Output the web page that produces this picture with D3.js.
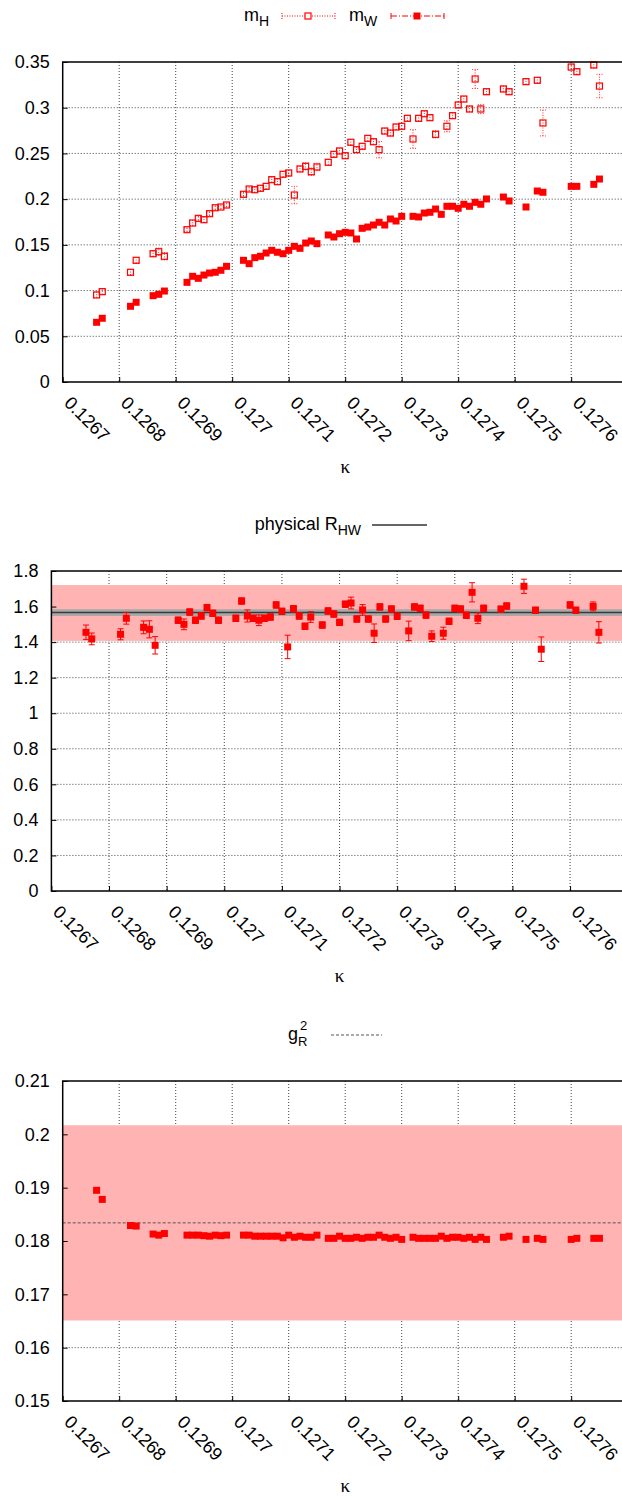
<!DOCTYPE html>
<html>
<head>
<meta charset="utf-8">
<script src="https://cdn.jsdelivr.net/npm/d3@7"></script>
<style>
  body { margin: 0; background: #fff; }
  text { font-family: "Liberation Sans", Arial, sans-serif; }
</style>
</head>
<body>
<svg id="chart" width="622" height="1496"></svg>
<script>
// kappa ticks shared by all three panels
var xTicks = [0.1267, 0.1268, 0.1269, 0.1270, 0.1271, 0.1272, 0.1273, 0.1274, 0.1275, 0.1276];
var xLabels = ["0.1267", "0.1268", "0.1269", "0.127", "0.1271", "0.1272", "0.1273", "0.1274", "0.1275", "0.1276"];

// panel 1: m_W (filled) and m_H (open, with errors)
var kappaW = [0.12676, 0.12677, 0.12682, 0.12683, 0.12686, 0.12687, 0.12688,
    0.12692, 0.12693, 0.12694, 0.12695, 0.12696, 0.12697, 0.12698, 0.12699,
    0.12702, 0.12703, 0.12704, 0.12705, 0.12706, 0.12707, 0.12708, 0.12709, 0.12710, 0.12711, 0.12712, 0.12713, 0.12714, 0.12715,
    0.12717, 0.12718, 0.12719, 0.12720, 0.12721, 0.12722, 0.12723, 0.12724, 0.12725, 0.12726, 0.12727, 0.12728, 0.12729, 0.12730,
    0.12732, 0.12733, 0.12734, 0.12735, 0.12736, 0.12737, 0.12738, 0.12739, 0.12740, 0.12741, 0.12742, 0.12743, 0.12744, 0.12745,
    0.12748, 0.12749, 0.12752, 0.12754, 0.12755, 0.12760, 0.12761, 0.12764, 0.12765];
var mW = [0.0653, 0.0697, 0.0828, 0.0872, 0.0944, 0.0959, 0.0995,
    0.109, 0.1156, 0.1134, 0.117, 0.1192, 0.12, 0.1222, 0.1265,
    0.1331, 0.1294, 0.136, 0.1375, 0.1411, 0.144, 0.1419, 0.1403, 0.144, 0.1484, 0.1462, 0.152, 0.1542, 0.1513,
    0.1608, 0.1586, 0.1622, 0.1637, 0.163, 0.1564, 0.1681, 0.1695, 0.1717, 0.1747, 0.1717, 0.1783, 0.1761, 0.1812,
    0.1812, 0.1805, 0.1848, 0.1856, 0.1892, 0.1834, 0.1922, 0.1922, 0.19, 0.1944, 0.1922, 0.1965, 0.1944, 0.2002,
    0.2023, 0.198, 0.1914, 0.2089, 0.2075, 0.214, 0.214, 0.2162, 0.222];

var kappaH = [0.12676, 0.12677, 0.12682, 0.12683, 0.12686, 0.12687, 0.12688,
    0.12692, 0.12693, 0.12694, 0.12695, 0.12696, 0.12697, 0.12698, 0.12699,
    0.12702, 0.12703, 0.12704, 0.12705, 0.12706, 0.12707, 0.12708, 0.12709, 0.12710, 0.12711, 0.12712, 0.12713, 0.12714, 0.12715,
    0.12717, 0.12718, 0.12719, 0.12720, 0.12721, 0.12722, 0.12723, 0.12724, 0.12725, 0.12726, 0.12727, 0.12728, 0.12729, 0.12730,
    0.12731, 0.12732, 0.12733, 0.12734, 0.12735, 0.12736, 0.12738, 0.12739, 0.12740, 0.12741, 0.12742, 0.12743, 0.12744, 0.12745,
    0.12748, 0.12749, 0.12752, 0.12754, 0.12755, 0.12760, 0.12761, 0.12764, 0.12765];
var mH = [0.0952, 0.0988, 0.12, 0.1331, 0.1403, 0.1425, 0.1375,
    0.1666, 0.1739, 0.179, 0.1775, 0.1841, 0.1906, 0.1914, 0.1936,
    0.2053, 0.2111, 0.2103, 0.2119, 0.214, 0.2213, 0.2191, 0.2272, 0.2286, 0.2045, 0.233, 0.2359, 0.23, 0.2352,
    0.2403, 0.249, 0.2527, 0.2475, 0.2622, 0.2541, 0.2578, 0.2665, 0.2628, 0.2541, 0.2745, 0.2723, 0.2789, 0.2797,
    0.2884, 0.2658, 0.2884, 0.2934, 0.2891, 0.2709, 0.2797, 0.2913, 0.303, 0.3095, 0.2986, 0.3314, 0.2986, 0.3175,
    0.3205, 0.3175, 0.3285, 0.33, 0.2833, 0.3445, 0.3394, 0.3467, 0.3237];
var mHerr = [0.003, 0.003, 0.003, 0.003, 0.003, 0.004, 0.004,
    0.002, 0.003, 0.002, 0.003, 0.002, 0.002, 0.002, 0.002,
    0.002, 0.002, 0.003, 0.003, 0.003, 0.003, 0.003, 0.003, 0.003, 0.0095, 0.003, 0.004, 0.004, 0.004,
    0.003, 0.003, 0.003, 0.003, 0.003, 0.003, 0.003, 0.003, 0.003, 0.009, 0.003, 0.003, 0.003, 0.003,
    0.003, 0.0102, 0.003, 0.003, 0.003, 0.004, 0.006, 0.003, 0.003, 0.003, 0.003, 0.0104, 0.005, 0.003,
    0.003, 0.003, 0.003, 0.003, 0.0142, 0.003, 0.003, 0.003, 0.0128];

// panel 2: R_HW = m_H / m_W
var kappaR = [0.12676, 0.12677, 0.12682, 0.12683, 0.12686, 0.12687, 0.12688,
    0.12692, 0.12693, 0.12694, 0.12695, 0.12696, 0.12697, 0.12698, 0.12699,
    0.12702, 0.12703, 0.12704, 0.12705, 0.12706, 0.12707, 0.12708, 0.12709, 0.12710, 0.12711, 0.12712, 0.12713, 0.12714, 0.12715,
    0.12717, 0.12718, 0.12719, 0.12720, 0.12721, 0.12722, 0.12723, 0.12724, 0.12725, 0.12726, 0.12727, 0.12728, 0.12729, 0.12730,
    0.12732, 0.12733, 0.12734, 0.12735, 0.12736, 0.12738, 0.12739, 0.12740, 0.12741, 0.12742, 0.12743, 0.12744, 0.12745,
    0.12748, 0.12749, 0.12752, 0.12754, 0.12755, 0.12760, 0.12761, 0.12764, 0.12765];
var rHW = [1.455, 1.418, 1.444, 1.534, 1.483, 1.472, 1.382,
    1.523, 1.5, 1.569, 1.523, 1.547, 1.594, 1.562, 1.523,
    1.534, 1.631, 1.547, 1.534, 1.523, 1.534, 1.541, 1.609, 1.573, 1.373, 1.588, 1.547, 1.489, 1.541,
    1.496, 1.575, 1.558, 1.511, 1.613, 1.62, 1.53, 1.581, 1.53, 1.45, 1.598, 1.53, 1.586, 1.545,
    1.463, 1.598, 1.59, 1.552, 1.433, 1.45, 1.517, 1.59, 1.586, 1.551, 1.68, 1.534, 1.59,
    1.585, 1.603, 1.714, 1.579, 1.36, 1.609, 1.579, 1.601, 1.455];
var rHWerr = [0.041, 0.033, 0.031, 0.033, 0.036, 0.048, 0.049,
    0.018, 0.03, 0.018, 0.018, 0.018, 0.018, 0.018, 0.018,
    0.018, 0.018, 0.034, 0.018, 0.03, 0.018, 0.018, 0.018, 0.018, 0.066, 0.018, 0.018, 0.018, 0.03,
    0.018, 0.018, 0.018, 0.018, 0.018, 0.033, 0.018, 0.03, 0.018, 0.052, 0.018, 0.018, 0.018, 0.018,
    0.055, 0.018, 0.018, 0.018, 0.03, 0.034, 0.018, 0.018, 0.018, 0.018, 0.054, 0.03, 0.018,
    0.018, 0.018, 0.04, 0.018, 0.069, 0.018, 0.018, 0.025, 0.06];
var rPhys = 1.566, rPhysErr = 0.019;
var rBand = [1.407, 1.721];

// panel 3: g_R^2
var kappaG = kappaW.slice();
var gR2 = [0.1895, 0.1878, 0.1829, 0.1828, 0.1813, 0.1811, 0.1814,
    0.1811, 0.1811, 0.1811, 0.181, 0.1809, 0.1811, 0.181, 0.1811,
    0.1811, 0.1811, 0.1809, 0.1809, 0.1809, 0.1809, 0.1809, 0.1806, 0.1811, 0.1807, 0.1809, 0.1807, 0.1807, 0.1811,
    0.1805, 0.1805, 0.1809, 0.1805, 0.1805, 0.1807, 0.1805, 0.1807, 0.1807, 0.1811, 0.1807, 0.1805, 0.1807, 0.1803,
    0.1807, 0.1805, 0.1805, 0.1805, 0.1805, 0.1809, 0.1805, 0.1807, 0.1807, 0.1805, 0.1807, 0.1803, 0.1807, 0.1803,
    0.1807, 0.1809, 0.1803, 0.1805, 0.1803, 0.1803, 0.1805, 0.1805, 0.1805];
var gRef = 0.1834;
var gBand = [0.1651, 0.2017];

var yTicks1 = [0, 0.05, 0.1, 0.15, 0.2, 0.25, 0.3, 0.35];
var yLabels1 = ["0", "0.05", "0.1", "0.15", "0.2", "0.25", "0.3", "0.35"];
var yTicks2 = [0, 0.2, 0.4, 0.6, 0.8, 1, 1.2, 1.4, 1.6, 1.8];
var yLabels2 = ["0", "0.2", "0.4", "0.6", "0.8", "1", "1.2", "1.4", "1.6", "1.8"];
var yTicks3 = [0.15, 0.16, 0.17, 0.18, 0.19, 0.2, 0.21];
var yLabels3 = ["0.15", "0.16", "0.17", "0.18", "0.19", "0.2", "0.21"];

var svg = d3.select("#chart"),
    red = "#ff0000",
    pink = "#ffb3b3",
    rightEdge = 627.7;   // right border falls just outside the picture

function zip(ks, vs, es) {
    return ks.map(function(k, i) { return {k: k, v: vs[i], e: es ? es[i] : 0}; });
}

// sets up scales, grid and axes for one panel
function makePanel(o) {
    var x = d3.scaleLinear().domain([0.1267, 0.1277]).range([o.left, rightEdge]);
    var y = d3.scaleLinear().domain(o.yDomain).range([o.bottom, o.top]);
    var g = svg.append("g");

    var grid = g.append("g");
    grid.selectAll(".vx").data(xTicks.slice(1)).enter().append("line")
        .attr("x1", function(d) { return x(d); }).attr("x2", function(d) { return x(d); })
        .attr("y1", o.top).attr("y2", o.bottom)
        .attr("stroke", "#444").attr("stroke-width", 1).attr("stroke-dasharray", "1,2");
    grid.selectAll(".hy").data(o.yTicks.slice(1, -1)).enter().append("line")
        .attr("x1", o.left).attr("x2", rightEdge)
        .attr("y1", function(d) { return y(d); }).attr("y2", function(d) { return y(d); })
        .attr("stroke", "#444").attr("stroke-width", 1).attr("stroke-dasharray", "1,2");

    var bands = g.append("g");
    var axes = g.append("g");

    axes.append("g")
        .attr("transform", "translate(0," + o.bottom + ")")
        .call(d3.axisBottom(x).tickValues(xTicks).tickFormat(function(d, i) { return xLabels[i]; })
            .tickSizeInner(-5).tickSizeOuter(0))
        .call(function(a) {
            a.select(".domain").remove();
            a.selectAll("line").attr("stroke", "#000");
            a.selectAll("text")
                .attr("x", 0).attr("y", 0).attr("dy", null)
                .attr("transform", "translate(0,22) rotate(45)")
                .style("text-anchor", "start")
                .style("font-size", "18px")
                .style("font-family", "'Liberation Sans', Arial, sans-serif")
                .attr("fill", "#000");
        });

    axes.append("g")
        .attr("transform", "translate(" + o.left + ",0)")
        .call(d3.axisLeft(y).tickValues(o.yTicks).tickFormat(function(d, i) { return o.yLabels[i]; })
            .tickSizeInner(-5).tickSizeOuter(0).tickPadding(13))
        .call(function(a) {
            a.select(".domain").remove();
            a.selectAll("line").attr("stroke", "#000");
            a.selectAll("text")
                .style("font-size", "18px")
                .style("font-family", "'Liberation Sans', Arial, sans-serif")
                .attr("fill", "#000");
        });

    g.append("text")
        .attr("x", (o.left + rightEdge) / 2)
        .attr("y", o.bottom + 91)
        .attr("text-anchor", "middle")
        .style("font-family", "'Liberation Serif', 'DejaVu Serif', serif")
        .style("font-size", "19px")
        .text("\u03ba");

    var marks = g.append("g");
    var frame = g.append("g");
    frame.append("path")
        .attr("d", "M" + rightEdge + "," + o.top + "H" + o.left + "V" + o.bottom + "H" + rightEdge)
        .attr("fill", "none").attr("stroke", "#000").attr("stroke-width", 1.5);

    return {x: x, y: y, bands: bands, marks: marks};
}

function errorBars(sel, data, x, y, dash, color) {
    var eb = sel.selectAll(null).data(data.filter(function(d) { return d.e > 0; })).enter().append("g")
        .attr("stroke", color).attr("stroke-width", 1).attr("fill", "none");
    if (dash) eb.attr("stroke-dasharray", dash);
    eb.append("line")
        .attr("x1", function(d) { return x(d.k); }).attr("x2", function(d) { return x(d.k); })
        .attr("y1", function(d) { return y(d.v - d.e); }).attr("y2", function(d) { return y(d.v + d.e); });
    [-1, 1].forEach(function(s) {
        eb.append("line")
            .attr("x1", function(d) { return x(d.k) - 3; }).attr("x2", function(d) { return x(d.k) + 3; })
            .attr("y1", function(d) { return y(d.v + s * d.e); }).attr("y2", function(d) { return y(d.v + s * d.e); });
    });
}

function filledSquares(sel, data, x, y) {
    sel.selectAll(null).data(data).enter().append("rect")
        .attr("x", function(d) { return x(d.k) - 3.5; })
        .attr("y", function(d) { return y(d.v) - 3.5; })
        .attr("width", 7).attr("height", 7)
        .attr("fill", red);
}

// ---------- panel 1 ----------
var p1 = makePanel({left: 62.7, top: 62, bottom: 382, yDomain: [0, 0.35], yTicks: yTicks1, yLabels: yLabels1});
var dataH = zip(kappaH, mH, mHerr);
errorBars(p1.marks, dataH, p1.x, p1.y, "1,1.5", "#ff3030");
p1.marks.selectAll(null).data(dataH).enter().append("rect")
    .attr("x", function(d) { return p1.x(d.k) - 3; })
    .attr("y", function(d) { return p1.y(d.v) - 3; })
    .attr("width", 6).attr("height", 6)
    .attr("fill", "none").attr("stroke", red).attr("stroke-width", 1.2);
filledSquares(p1.marks, zip(kappaW, mW), p1.x, p1.y);

// legend
var leg1 = svg.append("g");
leg1.append("text").attr("x", 244).attr("y", 21).style("font-size", "18px")
    .text("m").append("tspan").attr("dy", 5).style("font-size", "14px").text("H");
leg1.append("path").attr("d", "M282,16H335M282,13V19M335,13V19")
    .attr("stroke", red).attr("stroke-dasharray", "1,1.5").attr("fill", "none");
leg1.append("rect").attr("x", 305).attr("y", 13).attr("width", 6).attr("height", 6)
    .attr("fill", "#fff").attr("stroke", red).attr("stroke-width", 1.2);
leg1.append("text").attr("x", 349).attr("y", 21).style("font-size", "18px")
    .text("m").append("tspan").attr("dy", 5).style("font-size", "14px").text("W");
leg1.append("path").attr("d", "M391,16H444").attr("stroke", red).attr("stroke-dasharray", "6,2,1,2");
leg1.append("path").attr("d", "M391,13V19M444,13V19").attr("stroke", red);
leg1.append("rect").attr("x", 413.5).attr("y", 12.5).attr("width", 7).attr("height", 7).attr("fill", red);

// ---------- panel 2 ----------
var p2 = makePanel({left: 51.4, top: 571, bottom: 891, yDomain: [0, 1.8], yTicks: yTicks2, yLabels: yLabels2});
p2.bands.append("rect")
    .attr("x", 51.4).attr("width", rightEdge - 51.4)
    .attr("y", p2.y(rBand[1])).attr("height", p2.y(rBand[0]) - p2.y(rBand[1]))
    .attr("fill", pink);
p2.bands.append("rect")
    .attr("x", 51.4).attr("width", rightEdge - 51.4)
    .attr("y", p2.y(rPhys + rPhysErr)).attr("height", p2.y(rPhys - rPhysErr) - p2.y(rPhys + rPhysErr))
    .attr("fill", "#a8a8a8");
p2.bands.append("line")
    .attr("x1", 51.4).attr("x2", rightEdge)
    .attr("y1", p2.y(rPhys)).attr("y2", p2.y(rPhys))
    .attr("stroke", "#3a3a3a").attr("stroke-width", 1.5);
var dataR = zip(kappaR, rHW, rHWerr);
errorBars(p2.marks, dataR, p2.x, p2.y, null, red);
filledSquares(p2.marks, dataR, p2.x, p2.y);

var leg2 = svg.append("g");
leg2.append("text").attr("x", 361).attr("y", 530).attr("text-anchor", "end").style("font-size", "18px")
    .text("physical R").append("tspan").attr("dy", 5).style("font-size", "14px").text("HW");
leg2.append("line").attr("x1", 372).attr("x2", 427).attr("y1", 525).attr("y2", 525)
    .attr("stroke", "#333").attr("stroke-width", 1.3);

// ---------- panel 3 ----------
var p3 = makePanel({left: 62.7, top: 1081, bottom: 1401, yDomain: [0.15, 0.21], yTicks: yTicks3, yLabels: yLabels3});
p3.bands.append("rect")
    .attr("x", 62.7).attr("width", rightEdge - 62.7)
    .attr("y", p3.y(gBand[1])).attr("height", p3.y(gBand[0]) - p3.y(gBand[1]))
    .attr("fill", pink);
p3.bands.append("line")
    .attr("x1", 62.7).attr("x2", rightEdge)
    .attr("y1", p3.y(gRef)).attr("y2", p3.y(gRef))
    .attr("stroke", "#555").attr("stroke-width", 1).attr("stroke-dasharray", "3,2");
filledSquares(p3.marks, zip(kappaG, gR2), p3.x, p3.y);

// g_R^2 label: subscript and superscript stacked, as in the original key
var leg3 = svg.append("g");
var t3 = leg3.append("text").attr("x", 288).attr("y", 1040).style("font-size", "18px");
t3.append("tspan").text("g");
t3.append("tspan").attr("dy", 6).style("font-size", "13px").text("R");
t3.append("tspan").attr("x", 300).attr("dy", -16).style("font-size", "13px").text("2");
leg3.append("line").attr("x1", 331).attr("x2", 382).attr("y1", 1035).attr("y2", 1035)
    .attr("stroke", "#555").attr("stroke-dasharray", "3,2");
</script>
</body>
</html>
